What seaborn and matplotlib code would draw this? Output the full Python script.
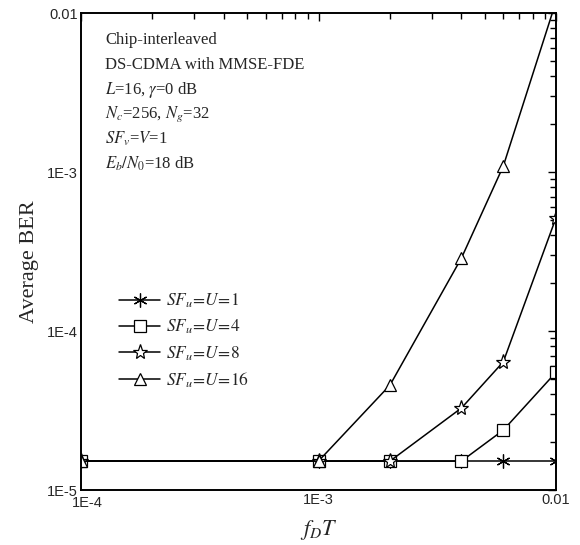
import numpy as np
import pandas as pd
import matplotlib
matplotlib.use("Agg")
import matplotlib.pyplot as plt
import matplotlib.transforms as mtransforms
import seaborn as sns
from matplotlib.ticker import FixedLocator, LogLocator, NullFormatter

sns.set_style("white")
plt.rcParams['font.family'] = ['Liberation Serif', 'DejaVu Serif']
plt.rcParams['mathtext.fontset'] = 'stix'

fdT = [1e-4, 1e-3, 2e-3, 4e-3, 6e-3, 1e-2]
ber_u1 = [1.52e-5, 1.52e-5, 1.52e-5, 1.52e-5, 1.52e-5, 1.52e-5]
ber_u4 = [1.52e-5, 1.52e-5, 1.52e-5, 1.52e-5, 2.38e-5, 5.5e-5]
ber_u8 = [1.52e-5, 1.52e-5, 1.52e-5, 3.28e-5, 6.4e-5, 5.15e-4]
ber_u16 = [1.52e-5, 1.52e-5, 4.57e-5, 2.88e-4, 1.09e-3, 1.18e-2]
labels = [r'$SF_u\!=\!U\!=\!1$', r'$SF_u\!=\!U\!=\!4$', r'$SF_u\!=\!U\!=\!8$', r'$SF_u\!=\!U\!=\!16$']
x_ticks = [1e-4, 1e-3, 1e-2]
x_ticklabels = ['1E-4', '1E-3', '0.01']
y_ticks = [1e-5, 1e-4, 1e-3, 1e-2]
y_ticklabels = ['1E-5', '1E-4', '1E-3', '0.01']

fig = plt.figure(figsize=(5.8, 5.45), dpi=100)
ax = fig.add_axes([81/580, 1-490/545, (556-81)/580, (490-13)/545])

series = [ber_u1, ber_u4, ber_u8, ber_u16]
markers = [(6, 2, 0), 's', '*', '^']
msizes = [10, 8, 11, 9]
for ys, lab, mk, ms in zip(series, labels, markers, msizes):
    df = pd.DataFrame({'x': fdT, 'y': ys})
    sns.lineplot(data=df, x='x', y='y', ax=ax, color='black', lw=1.1,
                 marker=mk, markersize=ms, markerfacecolor='white',
                 markeredgecolor='black', markeredgewidth=0.9, label=lab,
                 clip_on=True)

ax.set_xscale('log')
ax.set_yscale('log')
ax.set_xlim(1e-4, 1e-2)
ax.set_ylim(1e-5, 1e-2)

ax.xaxis.set_major_locator(FixedLocator(x_ticks))
ax.set_xticklabels(x_ticklabels, fontfamily='Liberation Sans', fontsize=10.5)
ax.yaxis.set_major_locator(FixedLocator(y_ticks))
ax.set_yticklabels(y_ticklabels, fontfamily='Liberation Sans', fontsize=10.5)
ax.xaxis.set_minor_locator(LogLocator(base=10, subs=np.arange(2, 10)))
ax.yaxis.set_minor_locator(LogLocator(base=10, subs=np.arange(2, 10)))
ax.xaxis.set_minor_formatter(NullFormatter())
ax.yaxis.set_minor_formatter(NullFormatter())
ax.tick_params(which='both', direction='in', top=True, right=True, color='black', width=1.0)
ax.tick_params(which='major', length=6, pad=2)
ax.tick_params(which='minor', length=4)
for s in ax.spines.values():
    s.set_color('black')
    s.set_linewidth(1.4)
# shift the corner x tick label slightly right/down, as in the reference
xtl = ax.get_xticklabels()
xtl[0].set_transform(xtl[0].get_transform() +
                     mtransforms.ScaledTranslation(6/100, -3/100, fig.dpi_scale_trans))

ax.set_xlabel(r'$f_D T$', fontsize=16, labelpad=6)
ax.set_ylabel('Average BER', fontsize=16, labelpad=6)
ax.yaxis.set_label_coords(-0.088, 0.478)

txt = ['Chip-interleaved', 'DS-CDMA with MMSE-FDE', r'$L$=16, $\gamma$=0 dB',
       r'$N_c$=256, $N_g$=32', r'$SF_v$=$V$=1', r'$E_b/N_0$=18 dB']
for i, t in enumerate(txt):
    ax.text(105/580, 1-(40.5+i*24.7)/545, t, transform=fig.transFigure,
            fontsize=12, ha='left', va='center')

leg = ax.legend(loc='upper left', bbox_to_anchor=(0.065, 0.43), frameon=False,
                fontsize=12.5, handlelength=2.4, handletextpad=0.3,
                labelspacing=0.45, borderaxespad=0)

fig.savefig('out.png', dpi=100)
